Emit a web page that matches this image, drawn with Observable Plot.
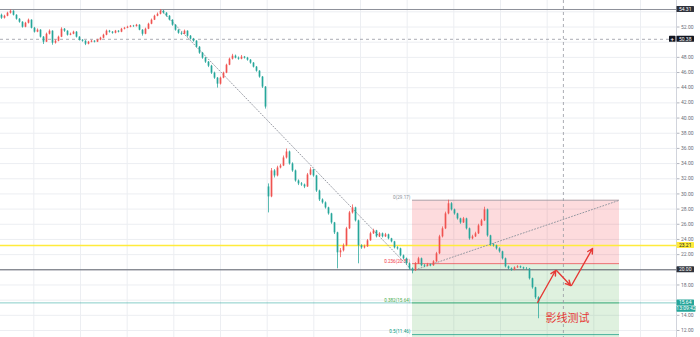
<!DOCTYPE html>
<html><head><meta charset="utf-8">
<script src="https://cdn.jsdelivr.net/npm/d3@7"></script>
<script src="https://cdn.jsdelivr.net/npm/@observablehq/plot@0.6"></script>
<style>html,body{margin:0;padding:0;background:#fff;overflow:hidden}svg{display:block}</style>
</head><body><div id="chart"></div>
<script>
// ---- candle data (bar index 0..179) ----
const opens = [
53.55,53.16,53.42,53.82,54.08,53.55,53.03,52.63,51.97,52.50,
52.90,51.84,51.32,51.58,50.66,50.00,51.05,51.45,49.87,50.13,
50.66,51.71,51.45,50.92,51.05,51.32,50.66,50.26,50.13,49.74,
50.00,50.13,50.00,50.26,50.53,50.92,51.45,51.32,51.18,51.45,
51.32,51.71,51.84,51.97,52.11,52.05,52.24,51.58,51.05,51.71,
52.37,52.90,53.42,53.68,54.08,53.82,53.42,52.90,52.24,51.58,
51.18,51.05,51.45,50.79,50.40,50.13,49.34,48.55,47.90,47.37,
46.84,45.92,45.26,44.47,45.26,45.92,46.97,47.76,48.16,47.90,
47.76,48.03,47.90,47.63,47.24,46.71,46.18,45.40,44.08,30.92,
29.61,33.03,32.37,33.42,33.68,34.74,35.53,33.95,33.03,31.71,
31.32,31.18,30.92,32.50,33.16,32.37,30.39,29.21,28.82,28.16,
27.37,26.18,24.87,22.24,22.50,23.16,25.40,27.50,28.16,26.45,
23.16,22.89,23.03,23.82,24.74,25.13,24.34,24.74,24.34,24.61,
24.08,23.68,22.89,22.76,21.84,21.45,20.79,20.13,19.87,20.79,
21.45,20.53,20.45,20.66,20.53,21.05,22.11,24.34,25.40,27.37,
28.70,27.90,27.37,26.71,26.18,26.71,25.40,24.08,24.34,24.74,
25.79,26.45,27.90,24.47,23.29,23.16,22.76,22.37,21.45,20.39,
20.13,19.95,20.26,20.39,20.26,20.13,20.10,18.82,17.63,16.32];
const closes = [
53.16,53.42,53.82,54.08,53.55,53.03,52.63,51.97,52.50,52.90,
51.84,51.32,51.58,50.66,50.00,51.05,51.45,49.87,50.13,50.66,
51.71,51.45,50.92,51.05,51.32,50.66,50.26,50.13,49.74,50.00,
50.13,50.00,50.26,50.53,50.92,51.45,51.32,51.18,51.45,51.32,
51.71,51.84,51.97,52.11,52.05,52.24,51.58,51.05,51.71,52.37,
52.90,53.42,53.68,54.08,53.82,53.42,52.90,52.24,51.58,51.18,
51.05,51.45,50.79,50.40,50.13,49.34,48.55,47.90,47.37,46.84,
45.92,45.26,44.47,45.26,45.92,46.97,47.76,48.16,47.90,47.76,
48.03,47.90,47.63,47.24,46.71,46.18,45.40,44.08,41.45,29.61,
33.03,32.37,33.42,33.68,34.74,35.53,33.95,33.03,31.71,31.32,
31.18,30.92,32.50,33.16,32.37,30.39,29.21,28.82,28.16,27.37,
26.18,24.87,22.24,22.50,23.16,25.40,27.50,28.16,26.45,23.16,
22.89,23.03,23.82,24.74,25.13,24.34,24.74,24.34,24.61,24.08,
23.68,22.89,22.76,21.84,21.45,20.79,20.13,19.87,20.79,21.45,
20.53,20.45,20.66,20.53,21.05,22.11,24.34,25.40,27.37,28.70,
27.90,27.37,26.71,26.18,26.71,25.40,24.08,24.34,24.74,25.79,
26.45,27.90,24.47,23.29,23.16,22.76,22.37,21.45,20.39,20.13,
19.95,20.26,20.39,20.26,20.13,20.10,18.82,17.63,16.32,15.64];
const highs = [
53.70,53.55,53.95,54.25,54.15,53.62,53.10,52.70,52.62,53.05,
52.95,51.95,51.75,51.65,50.75,51.20,51.62,51.50,50.30,50.80,
51.90,51.80,51.50,51.20,51.45,51.40,50.72,50.35,50.20,50.10,
50.25,50.20,50.38,50.65,51.05,51.60,51.55,51.40,51.55,51.52,
51.82,51.95,52.10,52.20,52.22,52.35,52.30,51.65,51.85,52.50,
53.05,53.55,53.85,54.31,54.18,53.90,53.50,52.95,52.30,51.65,
51.30,51.60,51.50,50.88,50.50,50.20,49.42,48.65,48.00,47.45,
46.95,46.05,45.35,45.40,46.05,47.10,47.90,48.40,48.30,48.05,
48.25,48.12,48.00,47.72,47.32,46.80,46.25,45.48,44.15,31.32,
33.35,33.20,33.65,33.90,35.00,35.92,35.65,34.10,33.15,31.85,
31.50,31.30,32.70,33.45,33.25,32.45,30.50,29.35,28.95,28.25,
27.45,26.25,24.95,22.80,23.40,25.60,27.70,28.55,28.25,26.55,
23.30,23.25,24.00,24.95,25.35,25.20,24.90,24.85,24.80,24.70,
24.15,23.75,23.05,22.85,21.95,21.55,20.90,20.25,20.95,21.65,
21.55,20.70,20.85,20.75,21.20,22.30,24.55,25.65,27.60,29.17,
28.85,28.00,27.45,26.80,26.90,26.80,25.50,24.55,24.95,26.00,
26.65,28.25,28.00,24.55,23.45,23.25,22.90,22.45,21.55,20.50,
20.25,20.40,20.55,20.50,20.35,20.30,20.18,18.90,17.70,16.45];
const lows = [
53.00,53.05,53.35,53.70,53.45,52.90,52.50,51.85,51.90,52.40,
51.75,51.20,51.25,50.55,49.70,49.95,50.95,49.60,49.75,50.05,
50.60,51.30,50.80,50.85,50.98,50.55,50.15,50.00,49.55,49.65,
49.92,49.90,49.95,50.20,50.45,50.85,51.20,51.05,51.10,51.22,
51.25,51.62,51.78,51.90,51.95,52.00,51.50,50.80,50.98,51.65,
52.30,52.85,53.35,53.60,53.70,53.30,52.80,52.10,51.45,51.05,
50.90,50.98,50.65,50.28,50.00,49.20,48.40,47.75,47.20,46.65,
45.75,45.10,43.95,44.35,45.18,45.85,46.90,47.65,47.80,47.62,
47.68,47.78,47.50,47.10,46.60,46.05,45.25,43.90,41.18,27.50,
29.50,32.10,32.25,33.30,33.60,34.60,33.80,32.85,31.55,31.10,
31.00,30.70,30.85,32.40,32.20,30.20,29.00,28.65,28.00,27.20,
26.00,24.65,20.13,21.60,22.35,23.05,25.30,27.35,26.30,20.79,
22.70,22.75,22.95,23.75,24.65,24.20,24.25,24.20,24.25,23.95,
23.55,22.75,22.60,21.70,21.30,20.65,19.95,19.47,19.80,20.70,
20.40,20.30,20.38,20.40,20.45,20.98,22.00,24.20,25.30,27.25,
27.75,27.20,26.55,26.00,26.10,25.25,23.90,23.95,24.25,24.65,
25.70,26.35,24.30,23.10,23.00,22.60,22.20,21.30,20.25,19.98,
19.80,19.88,20.18,20.15,20.00,19.95,18.65,17.45,16.10,13.55];

// ---- axis / grid ticks ----
const priceGrid = [12,14,16,18,20,22,24,26,28,30,32,34,36,38,40,42,44,46,48,50,52,54];
const axisTicks = [12,14,18,22,24,26,28,30,32,34,36,38,40,42,44,46,48,52];
const timeGrid = [10.78,26.33,41.89,57.44,73,88.56,104.11,119.67,135.22,150.78,166.33,181.89,197.44,213];

// ---- drawings ----
const fibNames  = ["0","0.236","0.382","0.5","0.618"];
const fibPrices = [29.17,20.81,15.64,11.46,7.28];
const fibStartBar = 137, fibEndBar = 206;
const trendBars   = [53,137,206];
const trendPrices = [54.31,19.87,29.17];
const topLine = 54.31, yellowLine = 23.21, supportLine = 20.00, lastPrice = 15.64;
const crossBar = 187.3, crossPrice = 50.38;
const arrowFromBar   = [178.7,185.0,190.0];
const arrowFromPrice = [15.69,19.91,17.93];
const arrowToBar     = [184.7,189.7,197.0];
const arrowToPrice   = [19.91,17.93,22.81];
const noteText = "影线测试", noteBar = 188.7, notePrice = 13.58;
const countdown = "13:09:42";

// ---- build tables ----
const bars = closes.map((c,i)=>({i, open:opens[i], high:highs[i], low:lows[i], close:c}));
const UP = "#ef5350", DOWN = "#26a69a";
const col = d => d.close >= d.open ? UP : DOWN;
const bands = fibPrices.slice(0,-1).map((p,k)=>({k, top:p, bottom:fibPrices[k+1]}));
const levels = fibPrices.slice(0,-1).map((p,k)=>({k, p, label:`${fibNames[k]}(${p.toFixed(2)})`}));
const levelColors = ["#8d9099","#f23645","#4caf50","#089981"];
const trend = trendBars.map((b,k)=>({b, p:trendPrices[k]}));
const arrows = arrowFromBar.map((b,k)=>({x1:b,y1:arrowFromPrice[k],x2:arrowToBar[k],y2:arrowToPrice[k]}));

const chart = Plot.plot({
  width: 700, height: 337,
  marginTop: 0, marginBottom: 0, marginLeft: 0, marginRight: 24,
  style: {fontFamily: "Roboto, sans-serif", background: "#fff", color: "#6a6d78"},
  x: {domain: [-1/3, 225], axis: null},
  y: {domain: [11.077, 55.495], axis: null},
  marks: [
    Plot.ruleY(priceGrid, {stroke: "#eceef2", strokeWidth: 1}),
    Plot.ruleX(timeGrid, {stroke: "#eceef2", strokeWidth: 1}),
    Plot.rect(bands, {x1: fibStartBar, x2: fibEndBar, y1: "bottom", y2: "top",
      fill: d => d.k === 0 ? "#f23645" : "#4caf50", fillOpacity: 0.18, clip: true}),
    Plot.ruleY(levels, {y: "p", x1: fibStartBar, x2: fibEndBar, stroke: d => levelColors[d.k], strokeOpacity: 0.7}),
    Plot.text(levels, {x: fibStartBar - 0.7, y: "p", text: "label", textAnchor: "end", dy: -2.6,
      fontSize: 4.6, fill: d => levelColors[d.k]}),
    Plot.ruleY([topLine], {stroke: "#8d9099", strokeWidth: 1}),
    Plot.ruleY([yellowLine], {stroke: "#ffeb3b", strokeWidth: 1.6}),
    Plot.ruleY([supportLine], {stroke: "#5d606b", strokeWidth: 1}),
    Plot.ruleY([lastPrice], {stroke: DOWN, strokeOpacity: 0.55, strokeWidth: 1}),
    Plot.ruleY([crossPrice], {stroke: "#9598a1", strokeDasharray: "3,3", strokeWidth: 0.8}),
    Plot.ruleX([crossBar], {stroke: "#9598a1", strokeDasharray: "3,3", strokeWidth: 0.8}),
    Plot.line(trend, {x: "b", y: "p", stroke: "#9598a1", strokeDasharray: "1,2", strokeWidth: 1}),
    Plot.ruleX(bars, {x: "i", y1: "low", y2: "high", stroke: col, strokeWidth: 0.75}),
    Plot.ruleX(bars, {x: "i", y1: "open", y2: "close", stroke: col, strokeWidth: 1.7}),
    Plot.arrow(arrows, {x1: "x1", y1: "y1", x2: "x2", y2: "y2", stroke: "#e53935",
      strokeWidth: 1.4, headLength: 6, headAngle: 55}),
    Plot.text([noteText], {x: noteBar, y: notePrice, text: d => d, fill: "#e53935",
      fontSize: 11, fontFamily: "'Noto Sans CJK SC', sans-serif"}),
    Plot.axisY(axisTicks, {anchor: "right", tickSize: 2.5, tickPadding: 2, fontSize: 5,
      tickFormat: d3.format(".2f"), stroke: "#b2b5be", fill: "#6a6d78"})
  ]
});
document.getElementById("chart").append(chart);

// ---- price badges on the right axis, positioned through Plot's scales ----
const ys = chart.scale("y"), xs = chart.scale("x");
const axisX = xs.range[1];
const H = ys.range[0];
const svg = d3.select(chart);
svg.append("line").attr("x1", axisX + 0.5).attr("x2", axisX + 0.5)
  .attr("y1", 0).attr("y2", H).attr("stroke", "#d1d4dc");
const badges = [
  {v: topLine, text: topLine.toFixed(2), bg: "#2f323b", fg: "#fff"},
  {v: crossPrice, text: crossPrice.toFixed(2), bg: "#131722", fg: "#fff"},
  {v: yellowLine, text: yellowLine.toFixed(2), bg: "#ffeb3b", fg: "#131722"},
  {v: supportLine, text: supportLine.toFixed(2), bg: "#2f323b", fg: "#fff"},
  {v: lastPrice, text: lastPrice.toFixed(2), bg: DOWN, fg: "#fff"}
];
const g = svg.append("g").attr("font-family", "Roboto, sans-serif").attr("font-size", 5);
for (const b of badges) {
  const y = ys.apply(b.v);
  g.append("rect").attr("x", axisX + 0.5).attr("y", y - 3).attr("width", 17.5).attr("height", 6).attr("fill", b.bg).attr("rx", 0.6);
  g.append("text").attr("x", axisX + 9.2).attr("y", y).attr("dy", "0.35em").attr("text-anchor", "middle").attr("fill", b.fg).text(b.text);
}
// countdown under the last price
{
  const y = ys.apply(lastPrice) + 3.3;
  g.append("rect").attr("x", axisX + 0.5).attr("y", y).attr("width", 19).attr("height", 6).attr("fill", DOWN).attr("rx", 0.6);
  g.append("text").attr("x", axisX + 10).attr("y", y + 3).attr("dy", "0.35em").attr("text-anchor", "middle").attr("fill", "#fff").text(countdown);
}
// crosshair "+" button
{
  const y = ys.apply(crossPrice);
  g.append("rect").attr("x", axisX - 7).attr("y", y - 3).attr("width", 6.5).attr("height", 6).attr("fill", "#131722").attr("rx", 0.6);
  g.append("text").attr("x", axisX - 3.75).attr("y", y).attr("dy", "0.35em").attr("text-anchor", "middle").attr("fill", "#fff").attr("font-size", 6).text("+");
}
</script>
</body></html>
